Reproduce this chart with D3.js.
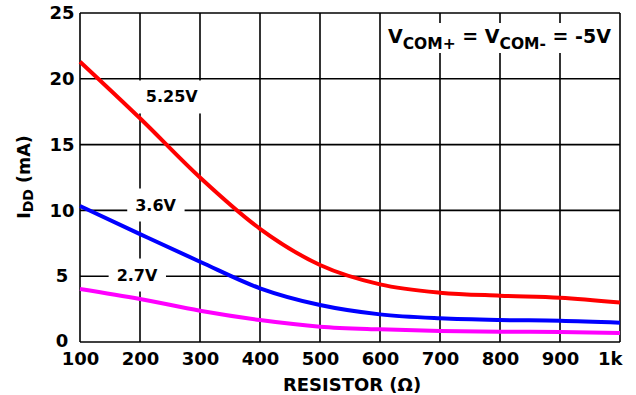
<!DOCTYPE html>
<html><head><meta charset="utf-8">
<script src="https://cdn.jsdelivr.net/npm/d3@7"></script>
<style>body{margin:0;background:#fff}svg{display:block}text{font-family:"DejaVu Sans",Verdana,sans-serif;font-weight:bold}</style>
</head><body><svg id="c" width="636" height="395"></svg>
<script>
const resistor = [100,200,300,400,500,600,700,800,900,1000];
const i525 = [21.3,17.0,12.5,8.6,5.85,4.38,3.75,3.52,3.37,3.0];
const i36  = [10.33,8.2,6.1,4.08,2.81,2.1,1.8,1.67,1.62,1.47];
const i27  = [4.03,3.27,2.38,1.67,1.16,0.96,0.84,0.78,0.76,0.68];
const xTicks = [100,200,300,400,500,600,700,800,900,1000];
const xTickLabels = ["100","200","300","400","500","600","700","800","900","1k"];
const yTicks = [0,5,10,15,20,25];
const seriesNames = ["5.25V","3.6V","2.7V"];
const seriesColors = ["#ff0000","#0000ff","#ff00ff"];
const seriesLabelPos = [[253,18.62],[226,10.41],[195,5.09]];

const svg = d3.select("#c");
const L=80,R=620,T=13,B=342;
const x = d3.scaleLinear().domain([100,1000]).range([L,R]);
const y = d3.scaleLinear().domain([0,25]).range([B,T]);

// grid
const g = svg.append("g");
g.selectAll(".vx").data(xTicks).enter().append("line")
  .attr("x1",d=>x(d)).attr("x2",d=>x(d)).attr("y1",T).attr("y2",B)
  .attr("stroke","#000").attr("stroke-width",1.6);
g.selectAll(".hy").data(yTicks).enter().append("line")
  .attr("x1",L).attr("x2",R).attr("y1",d=>y(d)).attr("y2",d=>y(d))
  .attr("stroke","#000").attr("stroke-width",1.6);

// axes labels via d3 axes
const xa = svg.append("g").attr("transform",`translate(0,${B})`)
  .call(d3.axisBottom(x).tickValues(xTicks).tickSize(0).tickPadding(10).tickFormat((d,i)=>xTickLabels[i]));
xa.select(".domain").remove();
xa.selectAll("text").attr("font-size",18).attr("fill","#000").style("font-family","DejaVu Sans").style("font-weight","bold");
xa.selectAll("text").filter(d=>d===1000).attr("text-anchor","end").attr("x",2);
const ya = svg.append("g").attr("transform",`translate(${L},0)`)
  .call(d3.axisLeft(y).tickValues(yTicks).tickSize(0).tickPadding(18));
ya.select(".domain").remove();
ya.selectAll("text").attr("font-size",18).attr("fill","#000").attr("text-anchor","middle")
  .style("font-family","DejaVu Sans").style("font-weight","bold");
ya.selectAll("text").filter(d=>d===0).attr("dy","0.25em");

// curves
const series=[i525,i36,i27];
const line = d3.line().x((d,i)=>x(resistor[i])).y(d=>y(d)).curve(d3.curveMonotoneX);

// series labels with white boxes (drawn under curves)
const labG = svg.append("g");
seriesNames.forEach((n,k)=>{
  const r = labG.append("rect").attr("fill","#fff");
  const t = labG.append("text").attr("x",x(seriesLabelPos[k][0])).attr("y",y(seriesLabelPos[k][1]))
    .attr("text-anchor","middle").attr("dominant-baseline","central").attr("font-size",16).text(n);
  const bb=t.node().getBBox();
  r.attr("x",bb.x-8).attr("y",bb.y-7).attr("width",bb.width+16).attr("height",bb.height+14);
});

series.forEach((s,k)=>{
  svg.append("path").attr("d",line(s)).attr("fill","none")
    .attr("stroke",seriesColors[k]).attr("stroke-width",4);
});

// annotation
const annG = svg.append("g");
const ar = annG.append("rect").attr("fill","#fff");
const ann = annG.append("text").attr("x",388).attr("y",43).attr("font-size",19);
ann.append("tspan").text("V");
ann.append("tspan").attr("font-size",15.5).attr("dy",6).text("COM+");
ann.append("tspan").attr("dy",-6).text(" = V");
ann.append("tspan").attr("font-size",15.5).attr("dy",6).text("COM-");
ann.append("tspan").attr("dy",-6).text(" = -5V");
const abb=ann.node().getBBox();
ar.attr("x",abb.x-3).attr("y",23).attr("width",abb.width+6).attr("height",30);

// axis titles
svg.append("text").attr("x",352).attr("y",391).attr("text-anchor","middle").attr("font-size",18).text("RESISTOR (Ω)");
const yt = svg.append("text").attr("transform","translate(24,177) rotate(-90)").attr("text-anchor","middle").attr("dominant-baseline","central").attr("font-size",17.5);
yt.append("tspan").text("I");
yt.append("tspan").attr("font-size",14).attr("dy",4).text("DD");
yt.append("tspan").attr("dy",-4).text(" (mA)");
</script></body></html>
